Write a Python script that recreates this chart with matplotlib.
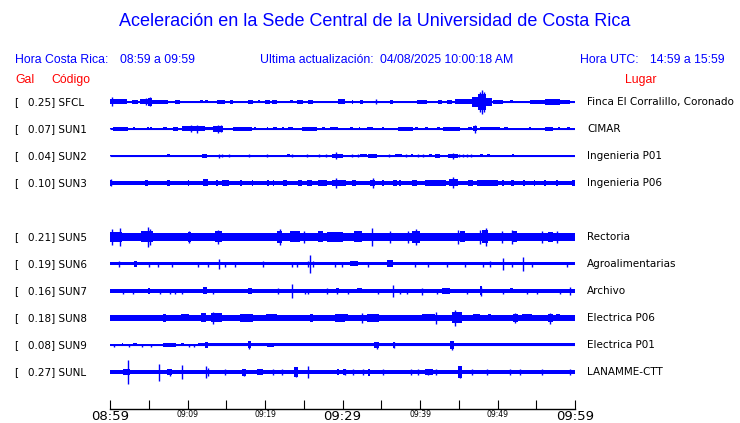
import matplotlib
matplotlib.use('Agg')
import matplotlib.pyplot as plt

# station info
gal = ['0.25', '0.07', '0.04', '0.10', '0.21', '0.19', '0.16', '0.18', '0.08', '0.27']
codes = ['SFCL', 'SUN1', 'SUN2', 'SUN3', 'SUN5', 'SUN6', 'SUN7', 'SUN8', 'SUN9', 'SUNL']
places = ['Finca El Corralillo, Coronado', 'CIMAR', 'Ingenieria P01', 'Ingenieria P06',
          'Rectoria', 'Agroalimentarias', 'Archivo', 'Electrica P06', 'Electrica P01',
          'LANAMME-CTT']
rows = [0, 1, 2, 3, 5, 6, 7, 8, 9, 10]

tick_min = [0, 10, 20, 30, 40, 50, 60]
tick_lbl = ['08:59', '09:09', '09:19', '09:29', '09:39', '09:49', '09:59']

# trace envelopes (minutes after 08:59, half amplitude in screen px)
base_hw = [0.5, 0.5, 0.5, 1.7, 4.0, 1.5, 1.7, 2.6, 0.5, 1.7]

bursts = [
    [(0.0, 2.2, 2.5), (2.8, 3.6, 2), (3.9, 4.9, 2.5), (4.9, 5.4, 4), (5.4, 7.5, 2), (8.4, 9.0, 2),
     (11.6, 12.0, 1.5), (12.3, 12.6, 1.5), (13.8, 14.8, 2), (15.5, 15.9, 2), (17.8, 18.5, 2),
     (19.1, 19.4, 1.5), (20.0, 20.6, 2), (20.9, 21.5, 2), (23.2, 23.6, 1.5), (24.1, 24.9, 2),
     (25.5, 26.2, 2), (29.4, 30.3, 2.5), (31.2, 31.4, 2), (32.3, 32.6, 2), (36.1, 36.5, 2),
     (39.6, 40.9, 2), (42.3, 42.8, 2), (43.5, 44.1, 2), (44.5, 46.7, 2.5), (46.7, 47.5, 5),
     (47.5, 48.5, 8), (48.5, 49.3, 4), (49.4, 50.7, 2), (51.6, 52.0, 1.5), (54.2, 56.1, 2),
     (56.1, 58.1, 3), (58.1, 59.4, 2)],
    [(0.4, 2.3, 2), (3.0, 3.2, 1.5), (4.8, 5.0, 1.5), (5.2, 5.4, 1.5), (6.8, 7.4, 1.5), (8.1, 8.8, 2),
     (9.3, 12.3, 2.5), (12.3, 13.3, 1.5), (13.3, 14.6, 3), (15.9, 18.3, 2), (18.6, 18.8, 1.5),
     (20.2, 20.4, 1.5), (21.0, 21.5, 1.5), (22.2, 22.4, 1.5), (23.0, 23.6, 1.5), (24.8, 26.7, 2),
     (27.4, 27.7, 1.5), (28.4, 29.4, 1.5), (31.0, 31.4, 1.5), (32.1, 32.3, 1.5), (33.2, 33.9, 1.5),
     (35.1, 35.3, 1.5), (37.2, 39.1, 2), (39.4, 39.7, 1.5), (40.6, 41.0, 1.5), (42.2, 42.6, 1.5),
     (43.0, 45.2, 2), (46.2, 46.7, 1.5), (46.8, 47.4, 2.5), (47.7, 50.3, 1.5), (50.9, 51.3, 1.5),
     (54.1, 54.3, 1.5), (56.1, 57.2, 2), (57.8, 58.0, 1.5), (59.0, 59.4, 1.5)],
    [(7.4, 7.7, 1.5), (11.9, 12.5, 2), (22.8, 23.2, 1.5), (28.6, 30.1, 2), (32.3, 33.2, 1.5),
     (33.3, 34.5, 2), (36.8, 37.7, 1.5), (38.9, 39.1, 1.5), (41.1, 41.5, 1.5), (41.9, 42.6, 2),
     (43.6, 44.9, 2), (47.7, 48.1, 1.5), (48.6, 49.0, 1.5), (51.9, 52.1, 1.5)],
    [(0.0, 0.3, 3), (2.4, 2.5, 3), (4.5, 4.9, 3), (6.0, 6.1, 3), (7.4, 7.7, 3), (10.1, 10.2, 3),
     (12.0, 12.6, 3.5), (13.7, 13.9, 3), (14.5, 15.4, 2.7), (16.8, 17.0, 3), (18.3, 18.5, 3),
     (20.3, 20.5, 3), (21.0, 21.2, 3), (22.3, 22.9, 2.7), (24.3, 24.8, 2.7), (25.4, 26.0, 2.7),
     (26.8, 28.0, 3), (28.6, 30.4, 3.2), (31.2, 31.8, 2.7), (33.5, 34.2, 3), (35.1, 35.3, 3),
     (36.5, 37.0, 2.7), (37.3, 37.5, 3), (39.0, 39.6, 2.7), (40.6, 43.4, 2.7), (43.8, 44.9, 3.5),
     (46.2, 46.8, 2.7), (47.4, 50.1, 2.7), (50.6, 50.8, 3), (51.7, 52.1, 3), (53.3, 53.5, 3),
     (54.7, 54.9, 3), (56.0, 56.2, 3), (57.6, 57.8, 3), (59.6, 60.0, 3)],
    [(0.0, 1.5, 5), (4.0, 5.5, 5.5), (10.0, 10.5, 5), (13.5, 14.5, 5.5), (21.5, 22.2, 6),
     (23.2, 24.5, 5.5), (26.9, 27.5, 5.5), (28.0, 30.0, 5), (31.5, 32.5, 5.5), (39.0, 40.0, 6),
     (45.2, 45.8, 5.5), (48.0, 48.8, 6.5), (52.0, 52.5, 5.5), (56.5, 57.2, 5)],
    [(3.1, 3.5, 3), (31.0, 32.0, 2.5), (35.8, 36.5, 3.5)],
    [(4.9, 5.2, 3), (12.0, 12.5, 3.5), (17.8, 18.3, 3), (29.2, 29.6, 2.5), (31.9, 32.5, 2.5),
     (42.9, 43.9, 3), (47.7, 48.0, 4.5), (51.6, 52.0, 2.5)],
    [(0.0, 4.0, 3), (6.8, 7.2, 4), (9.2, 10.2, 3.5), (11.8, 12.4, 4.5), (13.0, 14.4, 4.5),
     (16.8, 18.5, 4), (20.1, 21.6, 3.5), (25.8, 26.2, 4), (29.0, 30.3, 4), (30.3, 30.7, 3.5),
     (33.1, 34.7, 4), (40.3, 41.9, 3.5), (44.1, 45.4, 5.5), (46.9, 47.7, 3.5), (48.8, 49.2, 3.5),
     (52.0, 52.6, 4), (53.2, 54.5, 3.5), (56.5, 57.2, 4), (57.5, 58.0, 3.5)],
    [(1.5, 1.7, 1.5), (3.0, 3.5, 1.5), (6.8, 8.5, 2), (9.2, 9.6, 1.5), (11.4, 60.0, 1.5),
     (12.3, 12.7, 3), (17.8, 18.2, 3.5), (20.3, 21.2, 2), (34.1, 34.7, 3), (36.5, 36.8, 2.5),
     (43.9, 44.4, 4.5)],
    [(1.7, 2.6, 3), (7.4, 8.0, 3), (17.0, 17.6, 3.5), (19.0, 19.7, 3), (23.7, 24.2, 5),
     (29.3, 29.5, 3), (30.0, 30.5, 3), (33.3, 33.6, 3.5), (40.6, 41.7, 3), (44.9, 45.4, 6)],
]

spikes = [
    [(0.2, 4.5), (4.6, 3.5), (5.1, 4.5), (34.3, 2.5), (47.7, 10), (48.0, 12), (48.3, 10)],
    [(10.5, 3.5), (11.2, 4), (13.9, 4), (14.3, 3.5), (47.1, 4)],
    [(14.0, 2), (14.5, 1.5), (15.3, 1.5), (17.9, 1.5), (20.3, 1.5), (23.5, 1.5), (25.4, 1.5),
     (27.0, 1.5), (27.9, 1.5), (29.1, 3.5), (31.2, 1.5), (32.0, 1.5), (36.0, 1.5), (38.2, 1.5),
     (39.8, 1.5), (40.4, 1.5), (44.2, 3), (45.0, 1.5), (45.5, 1.5), (46.1, 1.5), (46.6, 1.5)],
    [(0.1, 3.5), (29.1, 5), (33.9, 5), (44.2, 5.5)],
    [(0.2, 8), (1.3, 9), (4.9, 10), (5.2, 8), (10.2, 6), (13.9, 7), (21.9, 8), (25.0, 6), (33.8, 9),
     (36.1, 6), (38.5, 6), (39.5, 8), (44.9, 7), (47.8, 7), (48.5, 9), (50.6, 6), (51.9, 7),
     (55.8, 6), (57.7, 6)],
    [(1.2, 3), (5.0, 2.5), (6.2, 2.5), (8.0, 2.5), (11.4, 2.5), (12.6, 2.5), (14.1, 5.5), (14.9, 2.5),
     (16.1, 2.5), (19.8, 3), (23.5, 2.5), (24.1, 2.5), (25.5, 3), (25.8, 9), (26.2, 3), (29.0, 2.5),
     (29.9, 2.5), (33.3, 2.5), (39.4, 2.5), (41.0, 2.5), (43.5, 2.5), (45.8, 2.5), (48.1, 2.5),
     (49.0, 3), (50.7, 6), (51.9, 2.5), (53.3, 7), (54.5, 2.5), (59.0, 2.5)],
    [(1.7, 2.5), (3.0, 2.5), (6.5, 2.5), (7.7, 2.5), (8.4, 2.5), (9.3, 2.5), (13.3, 2.5), (21.7, 3),
     (23.5, 7), (25.2, 2.5), (25.5, 2.5), (28.0, 3), (29.3, 3), (30.7, 2.5), (34.6, 2.5), (36.5, 6),
     (37.4, 2.5), (38.3, 2.5), (40.3, 3.5), (42.2, 2.5), (46.1, 2.5), (47.9, 4.5), (50.7, 2.5),
     (53.8, 2.5), (55.1, 2.5), (58.1, 2.5), (59.4, 4)],
    [(13.3, 6), (32.5, 5), (42.1, 6), (44.5, 8), (52.2, 5), (56.8, 5.5)],
    [(0.5, 1.5), (2.5, 1.5), (4.1, 1.5), (5.3, 1.5), (10.2, 1.5), (10.8, 1.5), (17.9, 3.5),
     (34.4, 3.5), (36.6, 3), (44.1, 4.5)],
    [(2.3, 12), (6.3, 8.5), (7.7, 3.5), (9.3, 7), (12.4, 6), (12.7, 4), (14.9, 2.5), (17.3, 3.5),
     (21.0, 2.5), (22.2, 2.5), (24.0, 5), (25.5, 6), (30.3, 3), (31.3, 2.5), (32.6, 3), (35.2, 2.5),
     (38.9, 2.5), (39.7, 2.5), (41.0, 3), (42.0, 2.5), (45.2, 6), (46.7, 2.5), (48.6, 2.5),
     (51.6, 3), (52.9, 2.5), (55.8, 3), (59.4, 2.5)],
]

W, H = 740, 423
BLUE = '#0000ff'
ROW_PX = 27.0


def fx(px):
    return px / W


def fy(py):
    return 1 - py / H


fig = plt.figure(figsize=(W / 100, H / 100), dpi=100)

# header
fig.text(fx(375), fy(22), 'Aceleración en la Sede Central de la Universidad de Costa Rica',
         ha='center', va='center', color=BLUE, fontsize=13, family='Liberation Sans')
hdr = dict(va='center', color=BLUE, fontsize=8.8, family='Liberation Sans')
fig.text(fx(15), fy(60), 'Hora Costa Rica:', **hdr)
fig.text(fx(120), fy(60), '08:59 a 09:59', **hdr)
fig.text(fx(260), fy(60), 'Ultima actualización:', **hdr)
fig.text(fx(380), fy(60), '04/08/2025 10:00:18 AM', **hdr)
fig.text(fx(580), fy(60), 'Hora UTC:', **hdr)
fig.text(fx(650), fy(60), '14:59 a 15:59', **hdr)
red = dict(va='center', color='red', fontsize=8.8, family='Liberation Sans')
fig.text(fx(15), fy(80), 'Gal', **red)
fig.text(fx(51), fy(80), 'Código', **red)
fig.text(fx(625), fy(80), 'Lugar', **red)

# traces
top_px, bot_px, first_px = 85, 409, 102
ax = fig.add_axes([fx(110), fy(bot_px), fx(575) - fx(110), (bot_px - top_px) / H])
ax.set_xlim(0, 60)
ax.set_ylim((bot_px - first_px) / ROW_PX, (top_px - first_px) / ROW_PX)

for i, r in enumerate(rows):
    hw = base_hw[i] / ROW_PX
    ax.fill_between([0, 60], r - hw, r + hw, color=BLUE, lw=0)
    if base_hw[i] <= 0.5:
        ax.hlines(r, 0, 60, color=BLUE, lw=0.8)
    for t0, t1, a in bursts[i]:
        ax.fill_between([t0, t1], r - a / ROW_PX, r + a / ROW_PX, color=BLUE, lw=0)
    for t, a in spikes[i]:
        ax.vlines(t, r - a / ROW_PX, r + a / ROW_PX, color=BLUE, lw=1.0)

    py = first_px + r * ROW_PX
    lab = dict(va='center', fontsize=7.5, color='black', family='DejaVu Sans')
    fig.text(fx(14), fy(py), '[', **lab)
    fig.text(fx(28), fy(py), gal[i] + '] ' + codes[i], **lab)
    fig.text(fx(587), fy(py), places[i], **lab)

for s in ['top', 'left', 'right']:
    ax.spines[s].set_visible(False)
ax.spines['bottom'].set_linewidth(1.0)
ax.set_yticks([])
ax.set_xticks(tick_min)
ax.set_xticks([5, 15, 25, 35, 45, 55], minor=True)
ax.tick_params(axis='x', which='both', direction='in', length=6.5, width=0.8, pad=0.5)
ax.set_xticklabels(tick_lbl)
for k, lbl in enumerate(ax.get_xticklabels()):
    lbl.set_fontsize(9.5 if k % 3 == 0 else 5.5)

fig.savefig('out.png', dpi=100)
